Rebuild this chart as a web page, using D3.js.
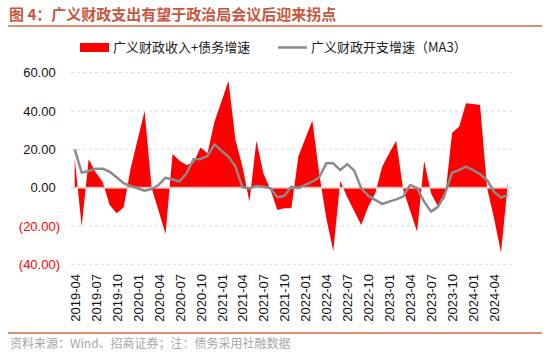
<!DOCTYPE html>
<html><head><meta charset="utf-8">
<script src="https://cdn.jsdelivr.net/npm/d3@7"></script>
<style>body{margin:0;background:#fff;}svg{display:block;}</style>
</head><body>
<svg id="c" width="550" height="352"></svg>
<script>
// Monthly categories 2019-04 .. 2024-06
const months = [];
for (let y = 2019; y <= 2024; y++) for (let m = 1; m <= 12; m++) {
  if ((y === 2019 && m < 4) || (y === 2024 && m > 6)) continue;
  months.push(y + "-" + String(m).padStart(2, "0"));
}
// 广义财政收入+债务增速 (%)
const revenueDebt = [15.3,-20.3,14.8,8,3,-9,-13.4,-10.4,10,25,40,0,-12,-24.2,17.6,14,
  11.8,13,21,18,34.4,45,55.8,24.9,11,-7.3,24.5,7.5,-1,-11.7,-10.8,-10.8,
  16.2,25.7,35,7,-16,-33,3.5,-5,-12.3,-19.5,-10,-3,11,18,24.5,-1,
  -12,-23,13.9,-3,-10,-5,28.7,31.8,44,43.6,43.1,0,-16,-34,3.1];
// 广义财政开支增速（MA3）
const spendingMA3 = [20,7.8,8.7,9.9,9.9,8.3,5.4,2.3,0.9,-0.3,-1.6,-0.7,1.4,5.2,4.3,3.2,
  7.5,14.8,15,16.5,22.6,19.3,16.2,11,0.2,-0.3,0.9,0.5,-0.3,-5,-4.3,0.5,
  -0.3,1.4,3.1,5.4,12.7,12.7,9.2,12.3,8.9,-0.3,-4.3,-6.4,-8.5,-7.3,-6.1,-4.7,
  1.4,-0.3,-7.3,-12.5,-9.9,-3,7.8,9.2,11,9.2,7.1,4,-2.1,-5.2,-3.8];
const yTicks = [60,40,20,0,-20,-40];
const xTickLabels = months.filter((d,i) => i % 3 === 0);
const titleText = "图 4：广义财政支出有望于政治局会议后迎来拐点";
const legendLabels = ["广义财政收入+债务增速", "广义财政开支增速（MA3）"];
const sourceText = "资料来源：Wind、招商证券；注：债务采用社融数据";

const svg = d3.select("#c");
const cjk = "'Noto Sans CJK SC','Noto Sans',sans-serif";
const lat = "'Liberation Sans',Arial,sans-serif";

const x = d3.scalePoint().domain(months).range([74.7, 508]);
const y = d3.scaleLinear().domain([-40, 60]).range([264.3, 72.7]);

// Title
svg.append("text").attr("x", 9).attr("y", 20).text(titleText)
  .attr("font-family", cjk).attr("font-size", 15).attr("font-weight", "bold").attr("fill", "#C8553D");
svg.append("line").attr("x1", 8).attr("x2", 542).attr("y1", 26).attr("y2", 26)
  .attr("stroke", "#D2693F").attr("stroke-width", 1.3);

// Legend
svg.append("rect").attr("x", 80).attr("y", 43).attr("width", 29).attr("height", 9).attr("fill", "#FF0000");
svg.append("text").attr("x", 113).attr("y", 52).text(legendLabels[0])
  .attr("font-family", cjk).attr("font-size", 13).attr("fill", "#222");
svg.append("line").attr("x1", 278).attr("x2", 307).attr("y1", 47.5).attr("y2", 47.5)
  .attr("stroke", "#8a8a8a").attr("stroke-width", 2.5);
svg.append("text").attr("x", 311).attr("y", 52).text(legendLabels[1])
  .attr("font-family", cjk).attr("font-size", 13).attr("fill", "#222");

// Grid
svg.append("g").selectAll("line").data(yTicks.filter(d => d !== 0)).join("line")
  .attr("x1", 71).attr("x2", 512).attr("y1", d => y(d)).attr("y2", d => y(d))
  .attr("stroke", "#d9d9d9").attr("stroke-dasharray", "3,3").attr("stroke-width", 1);

// Y axis labels
const yAxis = svg.append("g").attr("transform", "translate(60,0)")
  .call(d3.axisLeft(y).tickValues(yTicks).tickSize(0).tickPadding(0)
    .tickFormat(d => d < 0 ? "(" + d3.format(".2f")(-d) + ")" : d3.format(".2f")(d)));
yAxis.select(".domain").remove();
yAxis.selectAll("text").attr("font-family", lat).attr("font-size", 13)
  .attr("fill", d => d < 0 ? "#FF0000" : "#111")
  .attr("dx", d => d < 0 ? 0 : -4.3);

// Area
const area = d3.area().x((d,i) => x(months[i])).y0(y(0)).y1(d => y(d));
svg.append("path").datum(revenueDebt).attr("d", area).attr("fill", "#FF0000");

// Zero line
svg.append("line").attr("x1", 71).attr("x2", 512).attr("y1", y(0)).attr("y2", y(0))
  .attr("stroke", "#d9d9d9").attr("stroke-opacity", 0.85).attr("stroke-width", 2);

// Line
const line = d3.line().x((d,i) => x(months[i])).y(d => y(d));
svg.append("path").datum(spendingMA3).attr("d", line).attr("fill", "none")
  .attr("stroke", "#8a8a8a").attr("stroke-width", 2.5).attr("stroke-linejoin", "round");

// X axis labels
const xAxis = svg.append("g").attr("transform", "translate(0,272)")
  .call(d3.axisBottom(x).tickValues(xTickLabels).tickSize(0).tickPadding(0));
xAxis.select(".domain").remove();
xAxis.selectAll("text").attr("font-family", lat).attr("font-size", 13).attr("fill", "#111")
  .attr("transform", "rotate(-90)").attr("text-anchor", "end")
  .attr("x", -2).attr("y", 0).attr("dy", "0.35em");

// Footer
svg.append("line").attr("x1", 8).attr("x2", 542).attr("y1", 333).attr("y2", 333)
  .attr("stroke", "#D2693F").attr("stroke-width", 1.3);
svg.append("text").attr("x", 10).attr("y", 348).text(sourceText)
  .attr("font-family", cjk).attr("font-size", 12).attr("fill", "#a6a6a6");
</script>
</body></html>
